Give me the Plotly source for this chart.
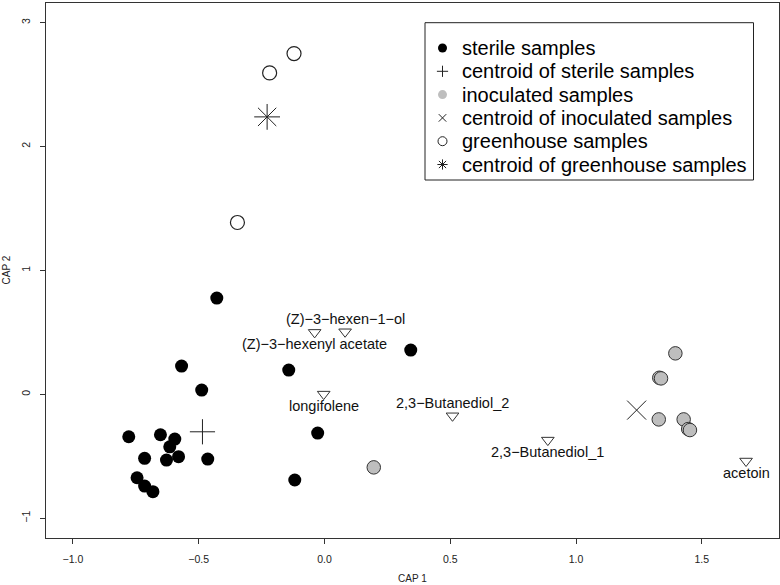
import plotly.graph_objects as go

# ---------------- data ----------------
sterile_x = [-0.428, -0.568, -0.488, -0.142, 0.343, -0.027, -0.118, -0.464,
             -0.778, -0.652, -0.595, -0.615, -0.580, -0.628, -0.715, -0.745, -0.715, -0.682]
sterile_y = [0.777, 0.228, 0.035, 0.196, 0.357, -0.312, -0.691, -0.522,
             -0.342, -0.326, -0.361, -0.423, -0.503, -0.530, -0.516, -0.673, -0.740, -0.785]
sterile_centroid = (-0.485, -0.302)

inoc_x = [1.395, 1.331, 1.338, 1.329, 1.428, 1.446, 1.453, 0.196]
inoc_y = [0.331, 0.134, 0.129, -0.202, -0.202, -0.280, -0.288, -0.589]
inoc_centroid = (1.241, -0.127)

green_x = [-0.121, -0.218, -0.346]
green_y = [2.750, 2.594, 1.387]
green_centroid = (-0.228, 2.239)

vol_names = ["(Z)\u22123\u2212hexen\u22121\u2212ol", "(Z)\u22123\u2212hexenyl acetate", "longifolene",
             "2,3\u2212Butanediol_2", "2,3\u2212Butanediol_1", "acetoin"]
vol_x = [0.082, -0.039, -0.003, 0.509, 0.888, 1.676]
vol_y = [0.505, 0.500, 0.002, -0.173, -0.369, -0.538]
vol_label_side = ["above", "below", "below", "above", "below", "below"]

x_ticks = [-1.0, -0.5, 0.0, 0.5, 1.0, 1.5]
y_ticks = [-1, 0, 1, 2, 3]

legend_labels = ["sterile samples", "centroid of sterile samples", "inoculated samples",
                 "centroid of inoculated samples", "greenhouse samples",
                 "centroid of greenhouse samples"]

# ---------------- style ----------------
FONT = "Liberation Sans, Arial, sans-serif"
W, H = 780, 585
ML, MR, MT, MB = 46, 1, 3, 47
GRAY = "#BEBEBE"

fig = go.Figure()

fig.add_trace(go.Scatter(x=sterile_x, y=sterile_y, mode="markers",
                         marker=dict(symbol="circle", size=13, color="black", line=dict(width=0))))
fig.add_trace(go.Scatter(x=[sterile_centroid[0]], y=[sterile_centroid[1]], mode="markers",
                         marker=dict(symbol="cross-thin", size=18, line=dict(width=1, color="#222"))))
fig.add_trace(go.Scatter(x=inoc_x, y=inoc_y, mode="markers",
                         marker=dict(symbol="circle", size=13.5, color=GRAY, line=dict(width=1, color="#333"))))
fig.add_trace(go.Scatter(x=[inoc_centroid[0]], y=[inoc_centroid[1]], mode="markers",
                         marker=dict(symbol="x-thin", size=19, line=dict(width=1, color="#222"))))
fig.add_trace(go.Scatter(x=green_x, y=green_y, mode="markers",
                         marker=dict(symbol="circle-open", size=14, color="#222", line=dict(width=1.2))))
fig.add_trace(go.Scatter(x=[green_centroid[0]], y=[green_centroid[1]], mode="markers",
                         marker=dict(symbol="asterisk", size=21.5, line=dict(width=1, color="#222"))))
fig.add_trace(go.Scatter(x=vol_x, y=vol_y, mode="markers",
                         marker=dict(symbol="triangle-down-open", size=11, color="#333", line=dict(width=1))))

annotations = []
for name, vx, vy, side in zip(vol_names, vol_x, vol_y, vol_label_side):
    annotations.append(dict(x=vx, y=vy, xref="x", yref="y", text=name, showarrow=False,
                            yshift=13 if side == "above" else -12, xanchor="center", yanchor="middle",
                            font=dict(family=FONT, size=14.5, color="#111")))

# axis titles
annotations.append(dict(x=0.5, y=0, xref="paper", yref="paper", text="CAP 1", showarrow=False,
                        yshift=-40, xanchor="center", yanchor="middle",
                        font=dict(family=FONT, size=10, color="#222")))
annotations.append(dict(x=0, y=0.5, xref="paper", yref="paper", text="CAP 2", showarrow=False,
                        xshift=-40, xanchor="center", yanchor="middle", textangle=-90,
                        font=dict(family=FONT, size=10, color="#222")))

# ---------------- legend (drawn in a pixel-scaled overlay axis) ----------------
px_x0, px_x1 = ML, W - MR
px_y0, px_y1 = MT, H - MB
leg_left, leg_right, leg_top, leg_bottom = 425, 753.5, 22.7, 180
row0, row_gap = 48, 23.3
sym_x, txt_x = 442.5, 460
leg_syms = [dict(symbol="circle", size=9, color="black", line=dict(width=0)),
            dict(symbol="cross-thin", size=8, line=dict(width=1, color="#222")),
            dict(symbol="circle", size=9, color=GRAY, line=dict(width=0)),
            dict(symbol="x-thin", size=7.5, line=dict(width=1, color="#222")),
            dict(symbol="circle-open", size=9, color="#222", line=dict(width=1)),
            dict(symbol="asterisk", size=8.5, line=dict(width=1, color="#222"))]
for i, (lab, ms) in enumerate(zip(legend_labels, leg_syms)):
    ry = row0 + i * row_gap
    fig.add_trace(go.Scatter(x=[sym_x], y=[ry], xaxis="x2", yaxis="y2", mode="markers",
                             marker=ms, hoverinfo="skip"))
    annotations.append(dict(x=txt_x, y=ry, xref="x2", yref="y2", text=lab, showarrow=False,
                            xanchor="left", yanchor="middle",
                            font=dict(family=FONT, size=20, color="black")))

shapes = [dict(type="rect", xref="x2", yref="y2", x0=leg_left, x1=leg_right, y0=leg_top, y1=leg_bottom,
               line=dict(color="#222", width=1), fillcolor="rgba(0,0,0,0)")]

axis_common = dict(showgrid=False, zeroline=False, showline=True, linecolor="#333", linewidth=1,
                   mirror=True, ticks="outside", ticklen=5, tickcolor="#333", tickwidth=1,
                   tickfont=dict(family=FONT, size=10.5, color="#222"))

fig.update_layout(
    width=W, height=H,
    margin=dict(l=ML, r=MR, t=MT, b=MB),
    paper_bgcolor="white", plot_bgcolor="white",
    showlegend=False,
    xaxis=dict(range=[-1.107, 1.807], tickvals=x_ticks, tickformat=".1f",
               ticklabelstandoff=6, **axis_common),
    yaxis=dict(range=[-1.159, 3.158], tickvals=y_ticks, tickangle=-90,
               ticklabelstandoff=6, **axis_common),
    xaxis2=dict(overlaying="x", range=[px_x0, px_x1], visible=False, fixedrange=True),
    yaxis2=dict(overlaying="y", range=[px_y1, px_y0], visible=False, fixedrange=True),
    annotations=annotations,
    shapes=shapes,
    font=dict(family=FONT),
)

fig.write_html("out.html", config={"displayModeBar": False},
               post_script="document.body.style.margin='0px';")
